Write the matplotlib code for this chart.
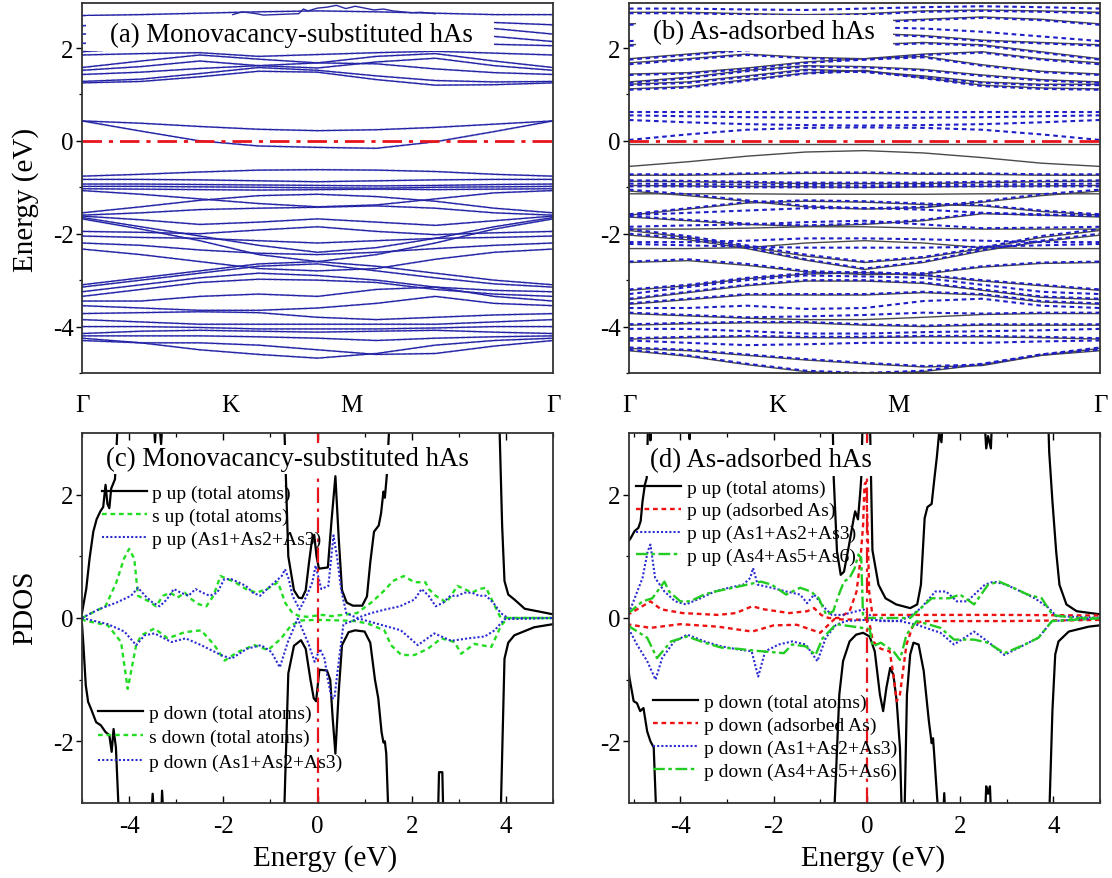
import numpy as np
import matplotlib
matplotlib.use("Agg")
import matplotlib.pyplot as plt
from matplotlib.patches import Rectangle

plt.rcParams['font.family'] = ['Liberation Serif', 'DejaVu Serif']
plt.rcParams['axes.unicode_minus'] = False

# ---------------------------------------------------------------- band data
kpath = [0.0, 0.125, 0.25, 0.375, 0.5, 0.625, 0.75, 0.875, 1.0]
kpath_ticks = [0.0, 0.314, 0.573, 1.0]
kpath_labels = ['Γ', 'K', 'M', 'Γ']

# (a) monovacancy-substituted hAs, both spin channels coincide
bands_a = [
    [1.25, 1.28, 1.38, 1.50, 1.48, 1.32, 1.20, 1.21, 1.25],
    [1.28, 1.33, 1.45, 1.58, 1.52, 1.40, 1.30, 1.27, 1.28],
    [1.43, 1.48, 1.56, 1.62, 1.68, 1.66, 1.55, 1.47, 1.43],
    [1.52, 1.60, 1.72, 1.62, 1.57, 1.70, 1.78, 1.62, 1.52],
    [1.58, 1.72, 1.85, 1.76, 1.68, 1.82, 1.88, 1.72, 1.58],
    [1.85, 1.88, 1.90, 1.82, 1.86, 1.90, 1.93, 1.89, 1.85],
    [1.92, 2.00, 2.10, 2.02, 1.97, 2.12, 2.20, 2.08, 2.05],
    [2.10, 2.15, 2.25, 2.30, 2.25, 2.30, 2.35, 2.25, 2.14],
    [2.30, 2.35, 2.45, 2.50, 2.45, 2.50, 2.55, 2.42, 2.30],
    [2.48, 2.55, 2.60, 2.65, 2.60, 2.62, 2.60, 2.55, 2.50],
    [2.70, 2.72, 2.75, 2.78, 2.80, 2.78, 2.75, 2.72, 2.72],
    [0.43, 0.38, 0.31, 0.25, 0.22, 0.24, 0.29, 0.36, 0.43],
    [0.43, 0.21, 0.00, -0.11, -0.14, -0.16, -0.02, 0.20, 0.43],
    [-0.76, -0.72, -0.67, -0.63, -0.62, -0.63, -0.66, -0.72, -0.76],
    [-0.83, -0.83, -0.84, -0.86, -0.88, -0.86, -0.84, -0.83, -0.83],
    [-0.93, -0.93, -0.94, -0.95, -0.96, -0.97, -0.96, -0.94, -0.93],
    [-0.98, -0.98, -0.99, -1.00, -1.01, -1.02, -1.00, -0.99, -0.98],
    [-1.03, -1.04, -1.05, -1.06, -1.05, -1.04, -1.05, -1.04, -1.03],
    [-1.07, -1.15, -1.25, -1.35, -1.42, -1.38, -1.25, -1.12, -1.07],
    [-1.55, -1.42, -1.28, -1.18, -1.15, -1.20, -1.30, -1.45, -1.55],
    [-1.60, -1.55, -1.48, -1.45, -1.43, -1.40, -1.45, -1.55, -1.60],
    [-1.62, -1.70, -1.80, -1.75, -1.68, -1.75, -1.82, -1.72, -1.62],
    [-1.65, -1.85, -2.05, -2.25, -2.40, -2.30, -2.10, -1.85, -1.65],
    [-1.68, -1.90, -2.15, -2.45, -2.60, -2.45, -2.20, -1.90, -1.68],
    [-1.95, -1.97, -2.00, -1.92, -1.85, -1.95, -2.02, -1.98, -1.95],
    [-2.05, -2.08, -2.10, -2.15, -2.20, -2.15, -2.10, -2.08, -2.05],
    [-2.20, -2.25, -2.35, -2.42, -2.45, -2.40, -2.32, -2.25, -2.20],
    [-2.33, -2.45, -2.60, -2.75, -2.80, -2.75, -2.55, -2.40, -2.33],
    [-3.10, -2.95, -2.80, -2.65, -2.60, -2.70, -2.85, -3.00, -3.10],
    [-3.15, -3.00, -2.85, -2.70, -2.65, -2.80, -2.95, -3.08, -3.15],
    [-3.25, -3.10, -2.95, -2.85, -2.90, -3.00, -3.15, -3.22, -3.25],
    [-3.35, -3.20, -3.05, -2.98, -3.00, -3.05, -3.20, -3.30, -3.35],
    [-3.45, -3.45, -3.35, -3.30, -3.35, -3.20, -3.15, -3.35, -3.45],
    [-3.55, -3.60, -3.65, -3.65, -3.60, -3.50, -3.35, -3.50, -3.55],
    [-3.72, -3.70, -3.68, -3.70, -3.80, -3.85, -3.80, -3.75, -3.72],
    [-3.85, -3.90, -3.95, -3.95, -3.95, -3.95, -3.95, -3.90, -3.85],
    [-4.00, -4.00, -4.02, -4.05, -4.05, -4.05, -4.03, -4.00, -4.00],
    [-4.15, -4.10, -4.08, -4.10, -4.12, -4.10, -4.08, -4.12, -4.15],
    [-4.20, -4.20, -4.20, -4.22, -4.25, -4.30, -4.25, -4.22, -4.20],
    [-4.25, -4.35, -4.50, -4.60, -4.68, -4.58, -4.40, -4.30, -4.25],
    [-4.30, -4.35, -4.35, -4.40, -4.50, -4.60, -4.58, -4.42, -4.30],
]
top_band_k_a = [0.32, 0.34, 0.355, 0.37, 0.385, 0.46, 0.47, 0.48, 0.50, 0.52, 0.54,
                0.56, 0.58, 0.60, 0.62, 0.64, 0.66, 0.68, 0.70, 0.72, 0.75]
top_band_e_a = [2.72, 2.78, 2.76, 2.74, 2.71, 2.74, 2.84, 2.80, 2.86, 2.88, 2.92,
                2.85, 2.90, 2.86, 2.82, 2.84, 2.80, 2.78, 2.76, 2.77, 2.74]

# (b) As-adsorbed hAs, spin up (solid) and spin down (dashed)
bands_b_up = [
    [1.12, 1.17, 1.32, 1.46, 1.52, 1.36, 1.20, 1.14, 1.12],
    [1.22, 1.27, 1.40, 1.54, 1.50, 1.40, 1.27, 1.22, 1.22],
    [1.27, 1.37, 1.52, 1.62, 1.60, 1.54, 1.42, 1.32, 1.27],
    [1.44, 1.47, 1.57, 1.70, 1.77, 1.82, 1.64, 1.50, 1.44],
    [1.68, 1.77, 1.87, 1.80, 1.77, 1.87, 1.92, 1.77, 1.68],
    [1.77, 1.87, 1.97, 2.02, 2.07, 2.12, 2.07, 1.92, 1.77],
    [2.07, 2.12, 2.22, 2.27, 2.32, 2.27, 2.17, 2.12, 2.07],
    [2.52, 2.57, 2.62, 2.62, 2.57, 2.62, 2.67, 2.62, 2.52],
    [2.77, 2.77, 2.74, 2.72, 2.74, 2.80, 2.82, 2.80, 2.77],
    [-0.07, -0.07, -0.07, -0.07, -0.07, -0.07, -0.07, -0.07, -0.07],
    [-0.55, -0.45, -0.33, -0.24, -0.21, -0.26, -0.36, -0.48, -0.55],
    [-0.74, -0.74, -0.72, -0.70, -0.70, -0.72, -0.72, -0.74, -0.74],
    [-0.87, -0.88, -0.90, -0.92, -0.92, -0.92, -0.90, -0.88, -0.87],
    [-0.96, -0.97, -0.98, -0.99, -1.00, -0.99, -0.98, -0.97, -0.96],
    [-1.14, -1.14, -1.14, -1.15, -1.15, -1.15, -1.14, -1.14, -1.14],
    [-1.08, -1.18, -1.30, -1.42, -1.47, -1.44, -1.32, -1.18, -1.08],
    [-1.60, -1.47, -1.34, -1.30, -1.32, -1.37, -1.40, -1.52, -1.60],
    [-1.64, -1.72, -1.80, -1.84, -1.80, -1.72, -1.57, -1.60, -1.64],
    [-1.90, -1.90, -1.88, -1.85, -1.85, -1.88, -1.90, -1.90, -1.90],
    [-1.93, -2.08, -2.28, -2.48, -2.62, -2.52, -2.32, -2.08, -1.93],
    [-2.03, -2.13, -2.32, -2.57, -2.77, -2.62, -2.37, -2.17, -2.03],
    [-2.32, -2.32, -2.30, -2.20, -2.15, -2.20, -2.30, -2.32, -2.32],
    [-2.62, -2.58, -2.68, -2.82, -2.88, -2.87, -2.72, -2.64, -2.62],
    [-3.22, -3.12, -2.97, -2.87, -2.84, -2.90, -3.02, -3.12, -3.22],
    [-3.42, -3.27, -3.12, -3.02, -3.02, -3.07, -3.22, -3.37, -3.42],
    [-3.52, -3.42, -3.32, -3.32, -3.32, -3.27, -3.32, -3.47, -3.52],
    [-3.72, -3.77, -3.82, -3.85, -3.85, -3.80, -3.74, -3.72, -3.72],
    [-3.97, -3.94, -3.92, -3.92, -3.97, -4.00, -3.97, -3.97, -3.97],
    [-4.27, -4.24, -4.22, -4.24, -4.24, -4.22, -4.22, -4.24, -4.27],
    [-4.47, -4.52, -4.62, -4.72, -4.80, -4.87, -4.84, -4.62, -4.47],
    [-4.52, -4.64, -4.82, -4.97, -5.02, -4.97, -4.82, -4.62, -4.52],
]
bands_b_dn = [
    [1.10, 1.15, 1.30, 1.45, 1.50, 1.35, 1.18, 1.12, 1.10],
    [1.20, 1.25, 1.38, 1.52, 1.48, 1.38, 1.25, 1.20, 1.20],
    [1.25, 1.35, 1.50, 1.60, 1.58, 1.52, 1.40, 1.30, 1.25],
    [1.42, 1.45, 1.55, 1.68, 1.75, 1.80, 1.62, 1.48, 1.42],
    [1.65, 1.75, 1.85, 1.78, 1.75, 1.85, 1.90, 1.75, 1.65],
    [1.75, 1.85, 1.95, 2.00, 2.05, 2.10, 2.05, 1.90, 1.75],
    [2.05, 2.10, 2.20, 2.25, 2.30, 2.25, 2.15, 2.10, 2.05],
    [2.15, 2.20, 2.30, 2.40, 2.45, 2.42, 2.35, 2.25, 2.15],
    [2.50, 2.55, 2.60, 2.60, 2.55, 2.60, 2.65, 2.60, 2.50],
    [2.75, 2.75, 2.72, 2.70, 2.72, 2.78, 2.80, 2.78, 2.75],
    [2.85, 2.85, 2.83, 2.82, 2.85, 2.88, 2.90, 2.88, 2.85],
    [0.63, 0.63, 0.63, 0.63, 0.63, 0.63, 0.63, 0.63, 0.63],
    [0.55, 0.53, 0.51, 0.50, 0.50, 0.50, 0.51, 0.53, 0.55],
    [0.45, 0.40, 0.36, 0.34, 0.33, 0.34, 0.36, 0.40, 0.45],
    [0.02, 0.14, 0.24, 0.28, 0.29, 0.28, 0.24, 0.14, 0.02],
    [-0.72, -0.72, -0.70, -0.68, -0.68, -0.70, -0.70, -0.72, -0.72],
    [-0.85, -0.86, -0.88, -0.90, -0.90, -0.90, -0.88, -0.86, -0.85],
    [-0.92, -0.93, -0.94, -0.95, -0.96, -0.95, -0.94, -0.93, -0.92],
    [-0.98, -0.98, -1.00, -1.00, -1.00, -0.98, -0.98, -0.98, -0.98],
    [-1.05, -1.15, -1.28, -1.40, -1.45, -1.42, -1.30, -1.15, -1.05],
    [-1.58, -1.45, -1.32, -1.28, -1.30, -1.35, -1.38, -1.50, -1.58],
    [-1.60, -1.55, -1.50, -1.45, -1.45, -1.48, -1.55, -1.60, -1.60],
    [-1.62, -1.70, -1.78, -1.82, -1.78, -1.70, -1.55, -1.58, -1.62],
    [-1.85, -1.82, -1.80, -1.75, -1.72, -1.80, -1.88, -1.87, -1.85],
    [-1.90, -2.05, -2.25, -2.45, -2.60, -2.50, -2.30, -2.05, -1.90],
    [-2.00, -2.10, -2.30, -2.55, -2.75, -2.60, -2.35, -2.15, -2.00],
    [-2.18, -2.18, -2.15, -2.10, -2.10, -2.12, -2.15, -2.18, -2.18],
    [-2.22, -2.25, -2.28, -2.30, -2.30, -2.30, -2.28, -2.25, -2.22],
    [-2.60, -2.55, -2.65, -2.80, -2.85, -2.85, -2.70, -2.62, -2.60],
    [-3.20, -3.10, -2.95, -2.85, -2.82, -2.88, -3.00, -3.10, -3.20],
    [-3.30, -3.15, -3.00, -2.90, -2.92, -2.95, -3.10, -3.25, -3.30],
    [-3.40, -3.25, -3.10, -3.00, -3.00, -3.05, -3.20, -3.35, -3.40],
    [-3.50, -3.40, -3.30, -3.30, -3.30, -3.25, -3.30, -3.45, -3.50],
    [-3.60, -3.60, -3.55, -3.62, -3.60, -3.45, -3.40, -3.55, -3.60],
    [-3.70, -3.75, -3.80, -3.78, -3.75, -3.70, -3.72, -3.70, -3.70],
    [-3.95, -3.92, -3.90, -3.90, -3.95, -3.98, -3.95, -3.95, -3.95],
    [-4.05, -4.05, -4.10, -4.15, -4.15, -4.12, -4.10, -4.08, -4.05],
    [-4.25, -4.22, -4.20, -4.22, -4.22, -4.20, -4.20, -4.22, -4.25],
    [-4.30, -4.35, -4.40, -4.38, -4.35, -4.35, -4.35, -4.32, -4.30],
    [-4.45, -4.50, -4.60, -4.70, -4.78, -4.85, -4.82, -4.60, -4.45],
    [-4.50, -4.62, -4.80, -4.95, -5.00, -4.95, -4.80, -4.60, -4.50],
]

# ---------------------------------------------------------------- PDOS data
# (c) monovacancy-substituted hAs
c_ptot_up_e = [-5.0, -4.95, -4.91, -4.84, -4.76, -4.69, -4.61, -4.55, -4.5, -4.46, -4.42, -4.38,
               -4.3, -4.22, -3.5, -3.45, -3.4, -3.32, -3.27, -0.72, -0.62, -0.5, -0.4, -0.33,
               -0.25, -0.18, -0.12, -0.07, -0.02, 0.03, 0.22, 0.3, 0.38, 0.45, 0.52, 0.62,
               0.75, 0.95, 1.05, 1.12, 1.2, 1.3, 1.35, 1.4, 1.43, 1.47, 1.55, 3.85, 3.92,
               3.97, 4.05, 4.18, 4.4, 4.6, 5.0]
c_ptot_up_v = [0.08, 0.3, 0.47, 0.96, 1.4, 1.6, 1.73, 1.8, 2.16, 1.85, 1.78, 2.1,
               2.25, 3.5, 3.5, 2.85, 3.5, 2.82, 3.5, 3.5, 1.0, 0.45, 0.33, 0.32,
               0.45, 0.9, 1.25, 1.35, 1.0, 0.8, 0.82, 1.6, 2.3, 1.3, 0.45, 0.25,
               0.2, 0.2, 0.35, 0.9, 1.4, 1.5, 1.7, 2.05, 1.95, 2.3, 3.5, 3.5, 1.5,
               0.6, 0.38, 0.3, 0.15, 0.12, 0.06]
c_stot_up_e = [-5.0, -4.8, -4.5, -4.27, -4.11, -4.0, -3.89, -3.81, -3.58, -3.43, -3.28, -3.12,
               -2.97, -2.82, -2.67, -2.51, -2.36, -2.21, -2.06, -1.9, -1.75, -1.52, -1.3,
               -1.07, -0.84, -0.76, -0.69, -0.53, -0.38, -0.23, 0.1, 0.3, 0.53, 0.84, 1.14,
               1.3, 1.45, 1.6, 1.83, 2.06, 2.29, 2.36, 2.51, 2.74, 2.97, 3.12, 3.28, 3.43,
               3.58, 3.73, 3.89, 5.0]
c_stot_up_v = [0.0, 0.08, 0.19, 0.58, 0.96, 1.12, 0.96, 0.36, 0.27, 0.19, 0.36, 0.41,
               0.33, 0.41, 0.3, 0.22, 0.19, 0.36, 0.68, 0.63, 0.58, 0.47, 0.41,
               0.47, 0.58, 0.41, 0.25, 0.08, 0.03, 0.02, 0.05, 0.03, 0.05, 0.08, 0.25,
               0.36, 0.47, 0.6, 0.68, 0.58, 0.58, 0.47, 0.36, 0.25, 0.52, 0.47, 0.41, 0.47,
               0.49, 0.25, 0.0, 0.0]
c_p123_up_e = [-5.0, -4.65, -4.27, -3.96, -3.81, -3.66, -3.5, -3.35, -3.2, -3.05, -2.9, -2.74,
               -2.59, -2.44, -2.29, -2.13, -1.98, -1.83, -1.68, -1.52, -1.37, -1.22, -1.07,
               -0.91, -0.76, -0.69, -0.61, -0.53, -0.38, -0.23, -0.11, -0.04, 0.08, 0.23,
               0.34, 0.42, 0.5, 0.61, 0.84, 1.14, 1.45, 1.75, 2.06, 2.21, 2.36, 2.51, 2.67,
               2.82, 2.97, 3.12, 3.28, 3.43, 3.58, 3.73, 3.89, 4.04, 5.0]
c_p123_up_v = [0.0, 0.14, 0.25, 0.36, 0.49, 0.36, 0.25, 0.19, 0.3, 0.47, 0.41, 0.36,
               0.47, 0.41, 0.36, 0.41, 0.63, 0.63, 0.58, 0.52, 0.41, 0.36, 0.47,
               0.58, 0.68, 0.79, 0.63, 0.36, 0.14, 0.36, 0.58, 0.85, 0.47, 0.52,
               1.34, 0.96, 0.47, 0.08, 0.0, 0.08, 0.14, 0.19, 0.3, 0.47, 0.36, 0.19, 0.25,
               0.36, 0.36, 0.41, 0.41, 0.36, 0.36, 0.25, 0.08, 0.0, 0.0]
c_ptot_dn_e = [-5.0, -4.97, -4.92, -4.87, -4.81, -4.7, -4.6, -4.5, -4.42, -4.37, -4.33, -4.28,
               -4.2, -3.55, -3.5, -3.45, -3.33, -3.3, -3.25, -0.72, -0.62, -0.5, -0.35,
               -0.25, -0.15, -0.08, -0.03, 0.04, 0.2, 0.27, 0.32, 0.38, 0.45, 0.52, 0.66,
               0.8, 1.0, 1.12, 1.22, 1.29, 1.36, 1.4, 1.43, 1.46, 1.52, 2.55, 2.58, 2.65,
               2.68, 3.88, 3.97, 4.05, 4.18, 4.6, 5.0]
c_ptot_dn_v = [-0.1, -0.44, -1.09, -1.36, -1.47, -1.69, -1.74, -1.85, -1.9, -2.17, -1.8, -2.1,
               -3.5, -3.5, -2.85, -3.5, -3.5, -2.8, -3.5, -3.5, -0.9, -0.45, -0.36,
               -0.5, -1.0, -1.3, -1.35, -0.84, -0.85, -1.0, -1.6, -2.2, -1.2, -0.44, -0.23,
               -0.2, -0.22, -0.4, -1.0, -1.3, -1.85, -2.02, -2.0, -2.2, -3.5, -3.5, -2.5, -2.5,
               -3.5, -3.5, -0.66, -0.4, -0.28, -0.15, -0.1]
c_stot_dn_e = [-5.0, -4.95, -4.45, -4.17, -4.03, -3.85, -3.74, -3.46, -3.18, -2.82, -2.47,
               -2.19, -1.97, -1.69, -1.34, -1.05, -0.77, -0.56, -0.35, 0.0, 0.5, 0.82, 1.1,
               1.42, 1.56, 1.78, 2.06, 2.34, 2.63, 2.91, 3.05, 3.33, 3.69, 3.9, 4.04, 5.0]
c_stot_dn_v = [0.0, -0.04, -0.12, -0.39, -1.15, -0.44, -0.28, -0.17, -0.33, -0.23, -0.2,
               -0.44, -0.69, -0.55, -0.44, -0.52, -0.33, -0.12, -0.04, -0.03, -0.04, -0.05, -0.1,
               -0.2, -0.44, -0.6, -0.6, -0.5, -0.33, -0.39, -0.58, -0.42, -0.47, -0.12, 0.0, 0.0]
c_p123_dn_e = [-5.0, -4.45, -4.1, -3.85, -3.67, -3.46, -3.1, -2.8, -2.47, -2.05, -1.83, -1.5,
               -1.2, -0.98, -0.8, -0.63, -0.42, -0.2, -0.06, 0.05, 0.15, 0.22, 0.3, 0.36,
               0.42, 0.55, 0.88, 1.3, 1.77, 2.13, 2.48, 2.84, 3.2, 3.55, 3.76, 3.97, 5.0]
c_p123_dn_v = [0.0, -0.1, -0.22, -0.44, -0.28, -0.25, -0.39, -0.33, -0.44, -0.6, -0.66, -0.5,
               -0.44, -0.55, -0.8, -0.39, -0.01, -0.4, -0.71, -0.5, -0.66, -1.0, -1.3, -1.3,
               -0.9, -0.1, -0.01, -0.1, -0.2, -0.44, -0.25, -0.37, -0.33, -0.3, -0.2, -0.02, 0.0]

# (d) As-adsorbed hAs
d_ptot_up_e = [-5.15, -5.06, -4.98, -4.9, -4.85, -4.81, -4.76, -4.72, -4.68, -4.66, -4.64, -4.62,
               -3.82, -3.8, -3.78, -0.74, -0.71, -0.64, -0.56, -0.49, -0.38, -0.28, -0.25,
               -0.19, -0.14, -0.12, -0.08, 0.06, 0.09, 0.12, 0.25, 0.4, 0.63, 0.93, 1.08,
               1.16, 1.24, 1.3, 1.39, 1.45, 1.5, 1.55, 1.6, 1.65, 2.5, 2.56, 2.6, 2.66,
               2.7, 3.88, 3.91, 3.98, 4.06, 4.13, 4.28, 4.5, 5.1]
d_ptot_up_v = [1.2, 1.3, 1.41, 1.46, 1.57, 1.89, 2.16, 2.27, 3.5, 3.5, 2.88, 3.5,
               3.5, 2.9, 3.5, 3.5, 2.27, 1.08, 0.7, 0.75, 1.19, 1.62, 1.73,
               1.6, 2.05, 2.27, 3.5, 3.5, 2.27, 1.1, 0.54, 0.32, 0.22, 0.16, 0.22,
               0.54, 1.62, 1.8, 1.85, 2.27, 2.6, 3.0, 2.85, 3.5, 3.5, 2.75, 2.95, 2.75,
               3.5, 3.5, 2.7, 1.89, 1.08, 0.54, 0.22, 0.11, 0.05]
d_pads_up_e = [-5.15, -5.06, -4.64, -4.41, -3.95, -3.19, -2.81, -2.46, -2.2, -1.66, -1.28,
               -1.13, -0.98, -0.82, -0.6, -0.37, -0.22, -0.14, -0.08, -0.05, -0.02, 0.01,
               0.05, 0.12, 1.0, 3.0, 5.1]
d_pads_up_v = [0.06, 0.08, 0.27, 0.14, 0.08, 0.05, 0.08, 0.19, 0.14, 0.08, 0.11,
               0.16, 0.05, 0.0, 0.0, 0.11, 0.43, 0.92, 1.51, 2.16, 2.2, 1.62,
               0.43, 0.05, 0.05, 0.05, 0.04]
d_p123_up_e = [-5.15, -5.06, -4.81, -4.7, -4.64, -4.54, -4.34, -4.11, -3.88, -3.57, -3.26, -2.96,
               -2.65, -2.5, -2.44, -2.34, -2.04, -1.73, -1.43, -1.28, -1.13, -0.9, -0.75,
               -0.52, -0.22, -0.07, 0.09, 0.24, 0.7, 0.93, 1.16, 1.47, 1.7, 1.93, 2.15, 2.53,
               2.72, 2.99, 3.3, 3.6, 3.91, 4.06, 5.1]
d_p123_up_v = [0.1, 0.16, 0.65, 1.08, 1.19, 0.65, 0.43, 0.27, 0.22, 0.32, 0.43, 0.49,
               0.54, 0.65, 0.81, 0.54, 0.49, 0.43, 0.38, 0.24, 0.38, 0.16, 0.05,
               0.05, 0.11, 0.14, 0.03, -0.05, -0.05, 0.03, 0.16, 0.43, 0.43, 0.27, 0.27, 0.54,
               0.59, 0.54, 0.43, 0.32, 0.16, 0.03, 0.0]
d_p456_up_e = [-5.15, -5.06, -4.81, -4.6, -4.34, -4.24, -4.0, -3.79, -3.49, -3.25, -2.87, -2.57,
               -2.27, -2.04, -1.73, -1.43, -1.2, -1.03, -0.87, -0.72, -0.6, -0.49, -0.37,
               -0.26, -0.18, -0.12, -0.08, 0.5, 0.93, 1.16, 1.39, 1.77, 2.0, 2.3, 2.6, 2.84,
               3.14, 3.45, 3.75, 3.98, 4.44, 5.1]
d_p456_up_v = [0.08, 0.11, 0.27, 0.32, 0.59, 0.43, 0.27, 0.27, 0.38, 0.43, 0.49, 0.54,
               0.59, 0.54, 0.38, 0.49, 0.43, 0.32, 0.05, 0.11, 0.38, 0.59, 0.65,
               0.81, 1.03, 0.97, 0.0, 0.0, 0.0, 0.16, 0.32, 0.32, 0.38, 0.22, 0.54, 0.59,
               0.49, 0.38, 0.32, 0.05, 0.0, 0.0]
d_ptot_dn_e = [-5.15, -5.09, -5.0, -4.93, -4.86, -4.79, -4.71, -4.64, -4.57, -4.5, -0.72, -0.66,
               -0.59, -0.51, -0.37, -0.23, -0.08, 0.06, 0.17, 0.28, 0.35, 0.42, 0.5, 0.57,
               0.64, 0.71, 0.76, 0.8, 0.86, 0.93, 1.0, 1.11, 1.22, 1.33, 1.39, 1.42, 1.45,
               1.56, 1.62, 1.66, 1.7, 2.52, 2.56, 2.6, 2.64, 2.68, 3.9, 3.98, 4.04, 4.11,
               4.33, 4.76, 5.1]
d_ptot_dn_v = [-0.59, -0.97, -1.35, -1.38, -1.51, -1.46, -1.84, -2.0, -2.1, -3.5, -3.5, -2.5,
               -1.24, -0.7, -0.38, -0.27, -0.24, -0.3, -0.54, -1.24, -1.51, -1.13, -0.81, -0.92,
               -1.35, -2.1, -3.5, -3.5, -1.24, -0.59, -0.4, -0.43, -0.86, -1.67, -2.03, -1.95, -2.27,
               -3.5, -3.5, -2.84, -3.5, -3.5, -2.73, -2.85, -2.73, -3.5, -3.5, -1.5, -0.59, -0.38,
               -0.22, -0.14, -0.11]
d_pads_dn_e = [-5.15, -4.64, -4.0, -3.2, -2.46, -2.0, -1.5, -1.0, -0.7, 0.0, 0.06, 0.13, 0.3,
               0.49, 0.57, 0.64, 0.71, 0.85, 1.0, 1.2, 3.0, 5.1]
d_pads_dn_v = [-0.1, -0.16, -0.1, -0.14, -0.22, -0.12, -0.11, -0.24, -0.02, -0.03, -0.1, -0.38, -0.5,
               -0.54, -0.92, -1.35, -1.24, -0.43, -0.1, -0.05, -0.05, -0.03]
d_p123_dn_e = [-5.15, -4.93, -4.71, -4.53, -4.39, -4.13, -3.85, -3.48, -3.12, -2.76, -2.47,
               -2.33, -2.18, -1.89, -1.6, -1.31, -1.06, -0.88, -0.66, -0.45, -0.01, 0.71,
               1.07, 1.58, 1.87, 2.3, 2.59, 2.95, 3.39, 3.68, 3.97, 5.1]
d_p123_dn_v = [-0.11, -0.43, -0.7, -1.0, -0.65, -0.38, -0.27, -0.38, -0.46, -0.51, -0.54,
               -0.95, -0.54, -0.43, -0.38, -0.43, -0.7, -0.32, -0.11, -0.05, -0.03, -0.05,
               -0.11, -0.24, -0.43, -0.22, -0.38, -0.6, -0.43, -0.32, -0.05, 0.0]
d_p456_dn_e = [-5.15, -4.71, -4.5, -4.2, -3.85, -3.48, -3.12, -2.76, -2.4, -1.78, -1.6, -1.31,
               -1.1, -0.95, -0.66, -0.1, 0.06, 0.13, 0.3, 0.57, 0.71, 0.85, 1.07, 1.58, 1.87,
               2.3, 2.59, 2.95, 3.39, 3.68, 3.97, 5.1]
d_p456_dn_v = [-0.11, -0.32, -0.65, -0.38, -0.3, -0.4, -0.48, -0.5, -0.53, -0.57, -0.43, -0.46,
               -0.6, -0.33, -0.1, -0.16, -0.18, -0.46, -0.4, -0.54, -0.68, -0.27, -0.05, -0.16, -0.35,
               -0.35, -0.4, -0.57, -0.43, -0.32, -0.05, 0.0]

# ---------------------------------------------------------------- layout
W, H = 1112, 879
fig = plt.figure(figsize=(W / 100, H / 100), dpi=100)


def frame(left, right, top, bottom):
    return [left / W, 1 - bottom / H, (right - left) / W, (bottom - top) / H]


ax_a = fig.add_axes(frame(82, 553, 4, 374))
ax_b = fig.add_axes(frame(629, 1100, 4, 374))
ax_c = fig.add_axes(frame(82, 553, 434, 804))
ax_d = fig.add_axes(frame(629, 1100, 434, 804))

TICK_FS = 18
TITLE_FS = 19.3
LABEL_FS = 21
FERMI = dict(color='#e8141c', lw=2.0, linestyle=(0, (7, 2.5, 1.5, 2.5)), zorder=2.5)


def style_axis(ax):
    for s in ax.spines.values():
        s.set_linewidth(1.3)
        s.set_color('#333333')
    ax.tick_params(axis='y', which='major', direction='out', length=4, width=1.0,
                   labelsize=TICK_FS, pad=2, right=False)
    ax.tick_params(axis='y', which='minor', direction='out', length=2.5, width=0.9, right=False)


# band panels
for ax in (ax_a, ax_b):
    ax.set_xlim(0, 1)
    ax.set_ylim(-4.95, 2.97)
    ax.set_yticks([-4, -2, 0, 2])
    ax.set_yticks([-5, -3, -1, 1], minor=True)
    ax.set_xticks(kpath_ticks)
    ax.set_xticklabels(kpath_labels)
    style_axis(ax)
    ax.tick_params(axis='x', length=0, labelsize=TICK_FS, pad=15)
    ax.axhline(0, **FERMI)

for band in bands_a:
    ax_a.plot(kpath, band, color='#14148a', lw=0.9, zorder=2)
    ax_a.plot(kpath, band, color='#3d3dd0', lw=1.4, alpha=0.5,
              linestyle=(0, (2, 1)), zorder=2)
ax_a.plot(top_band_k_a, top_band_e_a, color='#2a2aa0', lw=1.0, zorder=4)

for band in bands_b_up:
    ax_b.plot(kpath, band, color='#4a4a4a', lw=1.0, zorder=2)
for band in bands_b_dn:
    ax_b.plot(kpath, band, color='#1e1ec8', lw=1.5, linestyle=(0, (2.2, 1.8)), zorder=2.2)

ax_a.add_patch(Rectangle((0.008, 1.93), 0.866, 0.75, facecolor='white',
                         edgecolor='none', zorder=3))
ax_a.text(0.06, 2.3, '(a) Monovacancy-substituted hAs', fontsize=TITLE_FS,
          va='center', ha='left', zorder=5)
ax_b.add_patch(Rectangle((0.015, 1.93), 0.545, 0.79, facecolor='white',
                         edgecolor='none', zorder=3))
ax_b.text(0.05, 2.36, '(b) As-adsorbed hAs', fontsize=TITLE_FS,
          va='center', ha='left', zorder=5)

ax_a.set_ylabel('Energy (eV)', fontsize=LABEL_FS)
ax_a.yaxis.set_label_coords(-0.092, 0.47)

# PDOS panels
SOLID = dict(color='black', lw=1.6, linestyle='-')
S_GREEN = dict(color='#22dd22', lw=1.7, linestyle=(0, (2, 1.6)))
P_BLUE = dict(color='#2b2bd0', lw=1.5, linestyle=(0, (1, 1)))
P_RED = dict(color='#ee1111', lw=1.7, linestyle=(0, (2, 1.6)))
P_GREEN = dict(color='#22cc22', lw=1.7, linestyle=(0, (5, 1.5, 1.5, 1.5)))

for ax in (ax_c, ax_d):
    ax.set_ylim(-3, 3)
    ax.set_yticks([-2, 0, 2])
    ax.set_yticks([-1, 1], minor=True)
    ax.set_xticks([-4, -2, 0, 2, 4])
    ax.set_xticks([-5, -3, -1, 1, 3, 5], minor=True)
    style_axis(ax)
    ax.tick_params(axis='x', which='major', direction='in', length=5, width=1.0,
                   labelsize=TICK_FS, top=True, pad=9)
    ax.tick_params(axis='x', which='minor', direction='in', length=3, width=0.9, top=True)
    ax.axvline(0, color='#e8141c', lw=1.6, linestyle=(0, (7, 2.5, 1.5, 2.5)), zorder=2.5)
    ax.set_xlabel('Energy (eV)', fontsize=LABEL_FS)

ax_c.set_xlim(-5, 5)
ax_d.set_xlim(-5.1, 5.0)
ax_c.xaxis.set_label_coords(0.516, -0.112)
ax_d.xaxis.set_label_coords(0.518, -0.112)
ax_c.set_ylabel('PDOS', fontsize=LABEL_FS)
ax_c.yaxis.set_label_coords(-0.092, 0.53)

l_c1, = ax_c.plot(c_ptot_up_e, c_ptot_up_v, label='p up (total atoms)', **SOLID)
l_c2, = ax_c.plot(c_stot_up_e, c_stot_up_v, label='s up (total atoms)', **S_GREEN)
l_c3, = ax_c.plot(c_p123_up_e, c_p123_up_v, label='p up (As1+As2+As3)', **P_BLUE)
l_c4, = ax_c.plot(c_ptot_dn_e, c_ptot_dn_v, label='p down (total atoms)', **SOLID)
l_c5, = ax_c.plot(c_stot_dn_e, c_stot_dn_v, label='s down (total atoms)', **S_GREEN)
l_c6, = ax_c.plot(c_p123_dn_e, c_p123_dn_v, label='p down (As1+As2+As3)', **P_BLUE)

l_d1, = ax_d.plot(d_ptot_up_e, d_ptot_up_v, label='p up (total atoms)', **SOLID)
l_d2, = ax_d.plot(d_pads_up_e, d_pads_up_v, label='p up (adsorbed As)', **P_RED)
l_d3, = ax_d.plot(d_p123_up_e, d_p123_up_v, label='p up (As1+As2+As3)', **P_BLUE)
l_d4, = ax_d.plot(d_p456_up_e, d_p456_up_v, label='p up (As4+As5+As6)', **P_GREEN)
l_d5, = ax_d.plot(d_ptot_dn_e, d_ptot_dn_v, label='p down (total atoms)', **SOLID)
l_d6, = ax_d.plot(d_pads_dn_e, d_pads_dn_v, label='p down (adsorbed As)', **P_RED)
l_d7, = ax_d.plot(d_p123_dn_e, d_p123_dn_v, label='p down (As1+As2+As3)', **P_BLUE)
l_d8, = ax_d.plot(d_p456_dn_e, d_p456_dn_v, label='p down (As4+As5+As6)', **P_GREEN)

ax_c.add_patch(Rectangle((-4.95, 2.33), 8.3, 0.47, facecolor='white',
                         edgecolor='none', zorder=3))
ax_c.text(-4.48, 2.58, '(c) Monovacancy-substituted hAs', fontsize=TITLE_FS,
          va='center', ha='left', zorder=5)
ax_d.add_patch(Rectangle((-5.08, 2.3), 5.35, 0.5, facecolor='white',
                         edgecolor='none', zorder=3))
ax_d.text(-4.64, 2.57, '(d) As-adsorbed hAs', fontsize=TITLE_FS,
          va='center', ha='left', zorder=5)

LEG = dict(frameon=False, fontsize=14, handlelength=2.3, handletextpad=0.3,
           labelspacing=0.27, borderpad=0.0, borderaxespad=0.0, loc='upper left')

leg = ax_c.legend(handles=[l_c1, l_c2, l_c3], bbox_to_anchor=(0.042, 0.862), **LEG)
leg.set_zorder(6)
ax_c.add_artist(leg)
leg = ax_c.legend(handles=[l_c4, l_c5, l_c6], bbox_to_anchor=(0.034, 0.268),
                  **{**LEG, 'labelspacing': 0.36})
leg.set_zorder(6)

leg = ax_d.legend(handles=[l_d1, l_d2, l_d3, l_d4], bbox_to_anchor=(0.015, 0.876), **LEG)
leg.set_zorder(6)
ax_d.add_artist(leg)
leg = ax_d.legend(handles=[l_d5, l_d6, l_d7, l_d8], bbox_to_anchor=(0.051, 0.297), **LEG)
leg.set_zorder(6)

fig.savefig('out.png', dpi=100)
